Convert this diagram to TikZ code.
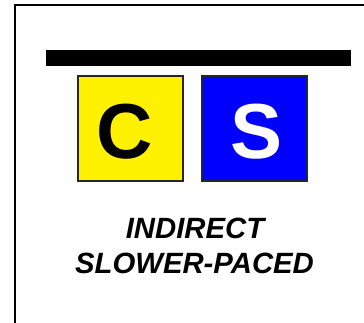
\documentclass[tikz,border=0pt]{standalone}
\usepackage{fontspec}
\setmainfont{Liberation Sans}
\begin{document}
\begin{tikzpicture}[x=1pt,y=-1pt,
  sq/.style={draw=black!85,line width=2pt,minimum size=105pt,inner sep=0pt,outer sep=0pt},
  letter/.style={font=\fontsize{78}{78}\selectfont\bfseries,inner sep=0pt,anchor=base},
  label/.style={font=\fontsize{29.3}{34}\selectfont\bfseries\itshape,inner sep=0pt,anchor=base}]
\useasboundingbox (0,0) rectangle (364,323);
\clip (0,0) rectangle (364,323);
\fill[white] (0,0) rectangle (364,323);
\node[draw=black,line width=2pt,minimum width=400pt,minimum height=360pt,anchor=north west,inner sep=0pt] (frame) at (14,4) {};
\node[fill=black,minimum width=305.7pt,minimum height=15.7pt,inner sep=0pt,anchor=north west] (bar) at (45.3,50) {};
\node[sq,fill=yellow] (csq) at (130.7,128.8) {};
\node[sq,fill={rgb,255:red,0;green,0;blue,255}] (ssq) at (254.8,128.8) {};
\node[letter,text=black] (cl) at (124.5,158.5) {C};
\node[letter,text=white] (sl) at (256.7,158.5) {S};
\node[label] (l1) at (195,239) {INDIRECT};
\node[label] (l2) at (194.5,273) {SLOWER-PACED};
\end{tikzpicture}
\end{document}
